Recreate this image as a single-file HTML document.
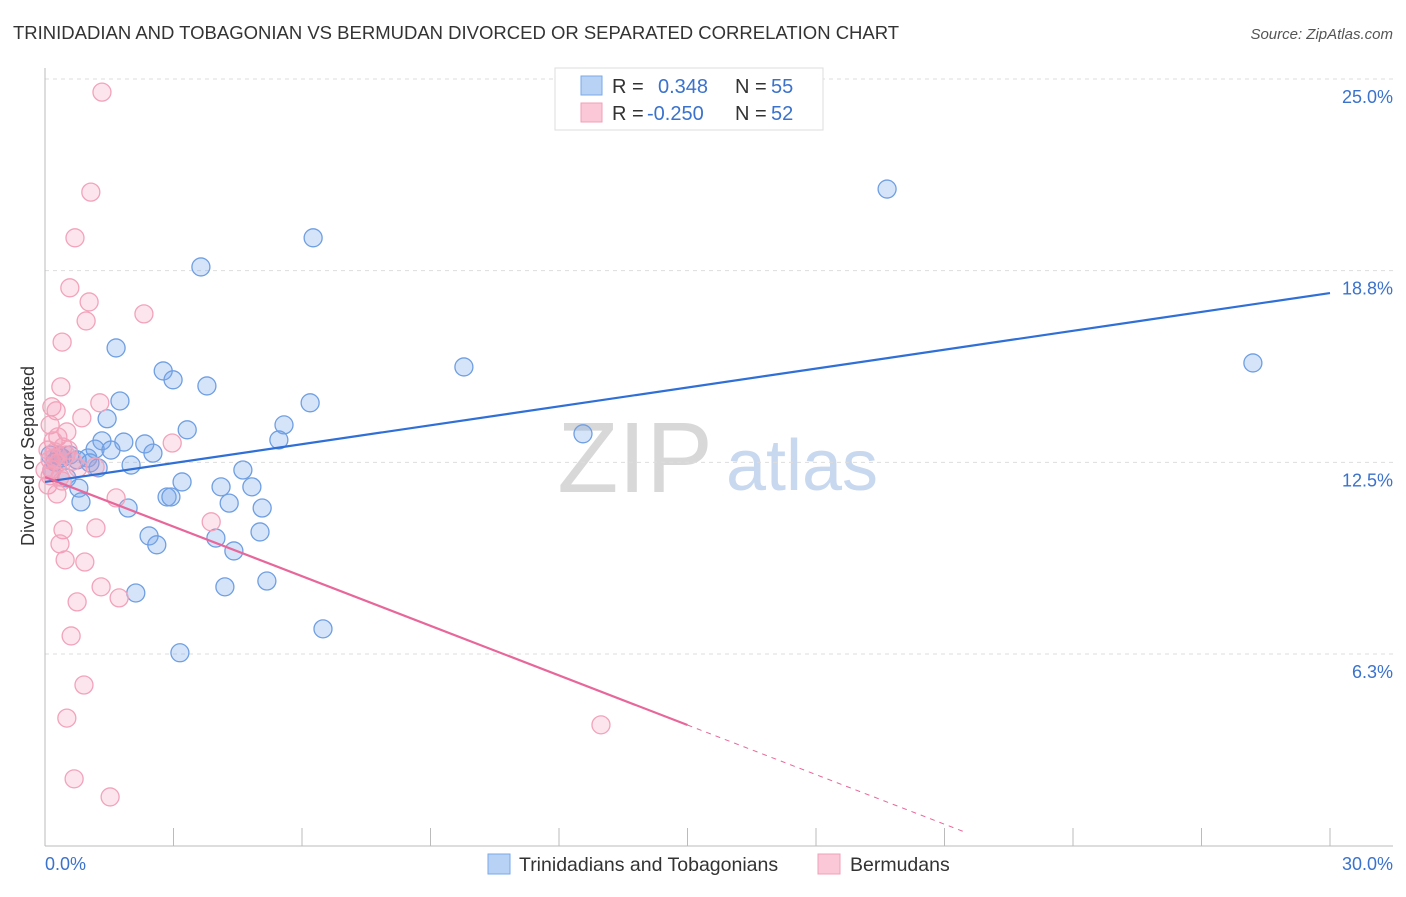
<!DOCTYPE html>
<html><head><meta charset="utf-8"><style>
body{margin:0;background:#fff;font-family:"Liberation Sans",sans-serif}
svg text{font-family:"Liberation Sans",sans-serif}
</style></head><body>
<svg id="c" width="1406" height="892">
<text x="13" y="39" font-size="18.5" fill="#333">TRINIDADIAN AND TOBAGONIAN VS BERMUDAN DIVORCED OR SEPARATED CORRELATION CHART</text>
<text x="1393" y="39" font-size="15" fill="#555" font-style="italic" text-anchor="end">Source: ZipAtlas.com</text>
<text x="635" y="492" font-size="100" fill="#d8d8d8" font-family="Liberation Serif" text-anchor="middle">ZIP</text>
<text x="802" y="490" font-size="72" fill="#c8d8ef" text-anchor="middle">atlas</text>
<text transform="translate(34,456) rotate(-90)" font-size="18" fill="#333" text-anchor="middle">Divorced or Separated</text>
<g id="grid"></g><g id="pts"></g><g id="lines"></g>
<g>
<rect x="555" y="68" width="268" height="62" fill="#fff" stroke="#ddd"/>
<rect x="581" y="76" width="21" height="19" fill="#b8d2f5" stroke="#7aa8e8"/>
<rect x="581" y="103" width="21" height="19" fill="#fbc8d7" stroke="#f0a0b8"/>
<text x="612" y="93" font-size="20" fill="#333">R = </text><text x="658" y="93" font-size="20" fill="#3a72cc">0.348</text>
<text x="735" y="93" font-size="20" fill="#333">N = </text><text x="771" y="93" font-size="20" fill="#3a72cc">55</text>
<text x="612" y="120" font-size="20" fill="#333">R = </text><text x="647" y="120" font-size="20" fill="#3a72cc">-0.250</text>
<text x="735" y="120" font-size="20" fill="#333">N = </text><text x="771" y="120" font-size="20" fill="#3a72cc">52</text>
</g>
<g>
<rect x="488" y="854" width="22" height="20" fill="#b8d2f5" stroke="#7aa8e8"/>
<text x="519" y="871" font-size="19.5" fill="#333">Trinidadians and Tobagonians</text>
<rect x="818" y="854" width="22" height="20" fill="#fbc8d7" stroke="#f0a0b8"/>
<text x="850" y="871" font-size="19.5" fill="#333">Bermudans</text>
</g>
</svg>
<script>
const yTicks=[25.0,18.8,12.5,6.3];
const yTickVals=[25,18.75,12.5,6.25];
const xTickLabels=["0.0%","30.0%"];
const blueX=[19.66,6.26,3.64,9.78,28.20,1.66,2.76,2.99,3.78,1.75,1.45,6.19,5.58,3.32,5.46,12.56,1.33,1.84,2.33,1.17,1.54,2.52,0.33,0.58,1.00,2.01,4.62,1.24,0.51,3.20,4.11,4.83,0.79,2.85,2.94,0.84,4.30,1.94,5.07,2.43,3.99,5.02,2.61,4.41,5.18,4.20,2.12,6.49,3.15,0.12,0.23,0.40,0.75,1.05,0.16];
const blueY=[21.41,19.82,18.87,15.61,15.74,16.23,15.48,15.19,14.99,14.50,13.92,14.44,13.72,13.56,13.23,13.43,13.20,13.16,13.10,12.93,12.90,12.80,12.71,12.74,12.64,12.41,12.25,12.32,11.99,11.86,11.70,11.70,11.66,11.37,11.37,11.21,11.17,11.01,11.01,10.10,10.03,10.23,9.81,9.61,8.63,8.44,8.24,7.07,6.29,12.74,12.51,12.64,12.58,12.48,12.25];
const pinkX=[1.33,1.07,0.70,0.58,1.03,0.96,2.31,0.40,0.37,1.28,0.16,0.26,0.86,0.12,0.51,0.30,0.19,2.97,0.42,0.07,0.23,0.49,0.12,0.30,0.65,1.17,0.16,0.12,0.07,0.40,0.28,1.66,3.88,0.42,1.19,0.35,0.93,0.47,1.31,1.73,0.75,0.61,0.91,0.51,12.98,0.68,1.52,0.35,0.0,0.21,0.54,0.77];
const pinkY=[24.57,21.31,19.82,18.19,17.73,17.11,17.34,16.42,14.96,14.44,14.31,14.18,13.95,13.72,13.49,13.33,13.20,13.13,13.00,12.90,12.84,12.74,12.58,12.48,12.54,12.35,12.25,12.06,11.76,11.89,11.47,11.34,10.56,10.30,10.36,9.84,9.25,9.32,8.44,8.08,7.95,6.84,5.24,4.16,3.94,2.18,1.59,12.02,12.25,12.64,12.90,12.32];
const blueFit=[11.86,18.02];
const pinkFit=[12.02,-0.539];
const pinkSolidEnd=15;
const pinkDashEnd=21.5;
const NS='http://www.w3.org/2000/svg';
const xs=v=>45+v*42.833, ys=v=>845.7-v*30.67;
function mk(t,a,p){const e=document.createElementNS(NS,t);for(const k in a)e.setAttribute(k,a[k]);document.getElementById(p).appendChild(e);return e;}
yTickVals.forEach((v,i)=>{
 const g=mk('line',{x1:45,x2:1393,y1:ys(v),y2:ys(v),stroke:'#ddd','stroke-dasharray':'4,4'},'grid');
 
 
 const t=mk('text',{x:1393,y:ys(v)+24,'font-size':18,fill:'#3a72cc','text-anchor':'end'},'grid');
 t.textContent=yTicks[i].toFixed(1)+'%';
 
 
});
const ax=mk('line',{x1:45,x2:45,y1:68,y2:846,stroke:'#bbb'},'grid');


const bx=mk('line',{x1:45,x2:1393,y1:846,y2:846,stroke:'#bbb'},'grid');


for(let i=0;i<=10;i++){const tk=mk('line',{x1:xs(i*3),x2:xs(i*3),y1:828,y2:846,stroke:'#bbb'},'grid');
 
 }
[[0,'start',45],[30,'end',1393]].forEach((d,i)=>{const t=mk('text',{x:d[2],y:870,'font-size':18,fill:'#3a72cc','text-anchor':d[1]},'grid');t.textContent=xTickLabels[i];
 
 });
blueX.forEach((x,i)=>{const c=mk('circle',{cx:xs(x),cy:ys(blueY[i]),r:9,fill:'rgba(120,165,235,0.3)',stroke:'#6f9fe2','stroke-width':1.3},'pts');
 
 });
pinkX.forEach((x,i)=>{const c=mk('circle',{cx:xs(x),cy:ys(pinkY[i]),r:9,fill:'rgba(245,150,180,0.25)',stroke:'#f2a3bb','stroke-width':1.3},'pts');
 
 });
const bl=mk('line',{x1:xs(0),y1:ys(blueFit[0]),x2:xs(30),y2:ys(blueFit[1]),stroke:'#2f6fd6','stroke-width':2.2},'lines');


const pe=pinkFit[0]+pinkFit[1]*pinkSolidEnd, pz=Math.max(0,pinkFit[0]+pinkFit[1]*pinkDashEnd);
const pl=mk('line',{x1:xs(0),y1:ys(pinkFit[0]),x2:xs(pinkSolidEnd),y2:ys(pe),stroke:'#e8679a','stroke-width':2.2},'lines');


const pd=mk('line',{x1:xs(pinkSolidEnd),y1:ys(pe),x2:xs(pinkDashEnd),y2:ys(pz),stroke:'#e8679a','stroke-width':1,'stroke-dasharray':'5,5'},'lines');


</script>
</body></html>
